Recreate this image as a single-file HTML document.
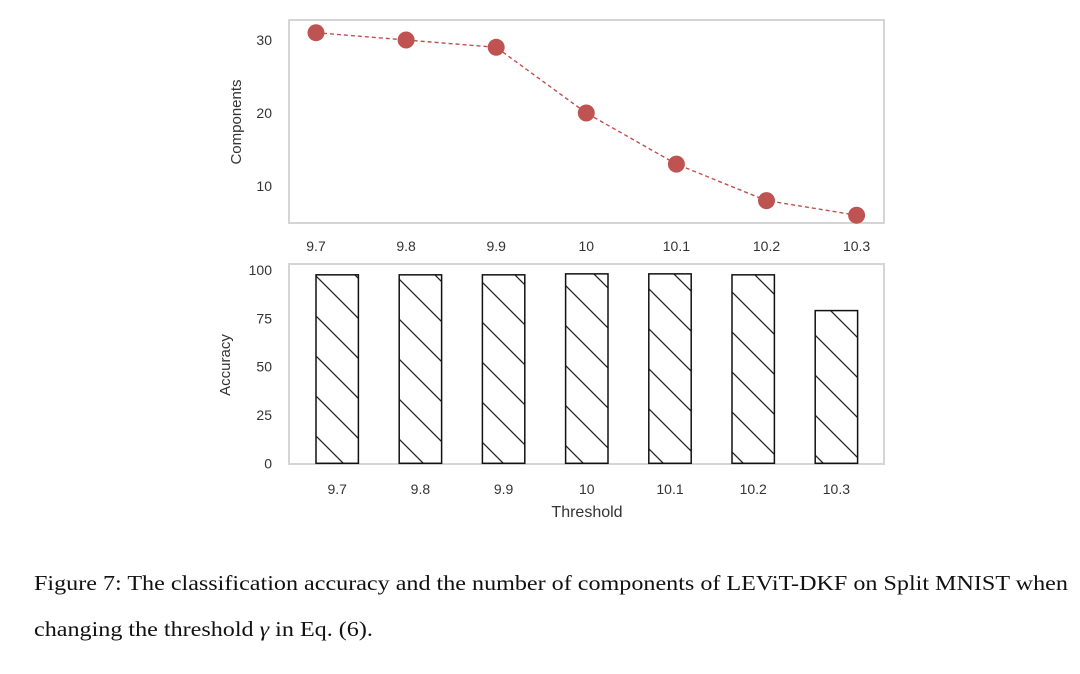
<!DOCTYPE html>
<html><head><meta charset="utf-8"><style>
html,body{margin:0;padding:0;background:#fff;width:1080px;height:674px;overflow:hidden}
svg text{font-family:"Liberation Sans",sans-serif}
.cap{position:absolute;left:34px;font-family:"Liberation Serif",serif;font-size:21px;color:#111;white-space:nowrap;transform:scaleX(1.148);transform-origin:0 0}
</style></head><body>
<svg id="chart" width="1080" height="674" style="position:absolute;left:0;top:0">
<defs><pattern id="hatch" patternUnits="userSpaceOnUse" width="40" height="40"><path d="M-10,-10 L50,50 M-10,30 L10,50 M30,-10 L50,10" stroke="#222" stroke-width="1.3"/></pattern></defs>
<g id="topg"></g><g id="botg"></g>
</svg>
<div class="cap" style="top:571px">Figure 7: The classification accuracy and the number of components of LEViT-DKF on Split MNIST when</div>
<div class="cap" style="top:617px">changing the threshold <i>γ</i> in Eq. (6).</div>
<script>
const categories = ["9.7","9.8","9.9","10","10.1","10.2","10.3"];
const components = [31,30,29,20,13,8,6];
const accuracy = [97.5,97.5,97.5,98,98,97.5,79];
const compTicks = [10,20,30];
const accTicks = [0,25,50,75,100];
const NS="http://www.w3.org/2000/svg";
function mk(parent,tag,attrs,txt){const e=document.createElementNS(NS,tag);for(const k in attrs)e.setAttribute(k,attrs[k]);if(txt!==undefined)e.textContent=txt;parent.appendChild(e);return e;}
const topG=document.getElementById('topg'), botG=document.getElementById('botg');
const tx=i=>316+i*90.1;
const ty=v=>186-(v-10)*7.3;
let f=mk(topG,'rect',{x:289,y:20,width:595,height:203,fill:'none',stroke:'#d5d5d5','stroke-width':2});

compTicks.forEach(v=>{const t=mk(topG,'text',{x:272,y:ty(v)+5,'text-anchor':'end','font-size':14,fill:'#333'},v);
});
categories.forEach((c,i)=>{const t=mk(topG,'text',{x:tx(i),y:251,'text-anchor':'middle','font-size':14,fill:'#333'},c);
});
let yl=mk(topG,'text',{x:0,y:0,transform:'translate(241,122) rotate(-90)','text-anchor':'middle','font-size':15,fill:'#333'},'Components');

const pts=components.map((v,i)=>tx(i)+','+ty(v)).join(' ');
let pl=mk(topG,'polyline',{points:pts,fill:'none',stroke:'#c0504d','stroke-width':1.4,'stroke-dasharray':'4,3'});

components.forEach((v,i)=>{const c=mk(topG,'circle',{cx:tx(i),cy:ty(v),r:8.5,fill:'#bf5352'});
});
const bx=i=>337.2+i*83.2;
const by=v=>463.3-v*1.933;
let f2=mk(botG,'rect',{x:289,y:264,width:595,height:200,fill:'none',stroke:'#d5d5d5','stroke-width':2});

accTicks.forEach(v=>{const t=mk(botG,'text',{x:272,y:by(v)+5,'text-anchor':'end','font-size':14,fill:'#333'},v);
});
accuracy.forEach((v,i)=>{const r=mk(botG,'rect',{x:bx(i)-21.2,y:by(v),width:42.4,height:463.3-by(v),fill:'url(#hatch)',stroke:'#111','stroke-width':1.5});
});
categories.forEach((c,i)=>{const t=mk(botG,'text',{x:bx(i),y:494,'text-anchor':'middle','font-size':14,fill:'#333'},c);
});
let yl2=mk(botG,'text',{x:0,y:0,transform:'translate(230,365) rotate(-90)','text-anchor':'middle','font-size':15,fill:'#333'},'Accuracy');

let xl=mk(botG,'text',{x:587,y:517,'text-anchor':'middle','font-size':16,fill:'#333'},'Threshold');

</script>
</body></html>
